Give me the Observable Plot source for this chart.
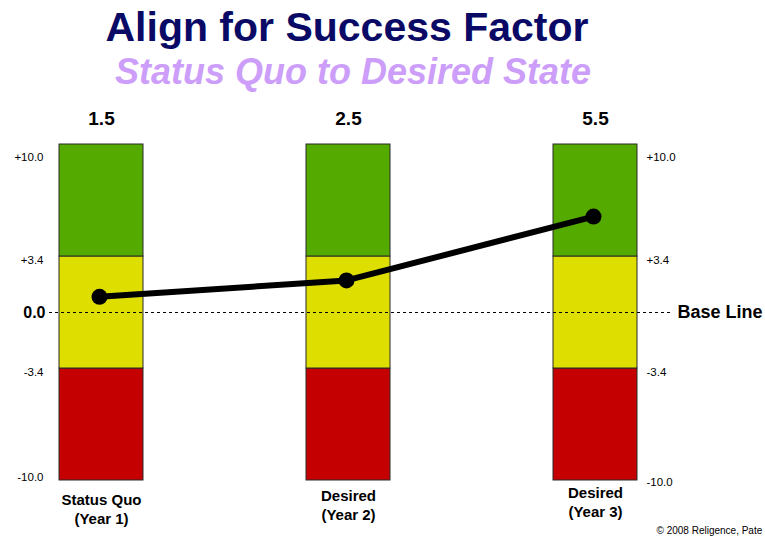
<!DOCTYPE html>
<html><head><meta charset="utf-8">
<script src="https://cdn.jsdelivr.net/npm/d3@7"></script>
<script src="https://cdn.jsdelivr.net/npm/@observablehq/plot@0.6"></script>
<style>html,body{margin:0;padding:0;background:#fff;overflow:hidden}</style>
</head><body><div id="chart"></div>
<script>
const title = "Align for Success Factor";
const subtitle = "Status Quo to Desired State";
const categories = ["Status Quo\n(Year 1)", "Desired\n(Year 2)", "Desired\n(Year 3)"];
const scoreLabels = ["1.5", "2.5", "5.5"];
const plottedValues = [0.95, 1.95, 5.75];
const zoneNames = ["Below", "Neutral", "Above"];
const zoneLow = [-10, -3.4, 3.4];
const zoneHigh = [-3.4, 3.4, 10];
const tickValues = [10, 3.4, 0, -3.4, -10];
const tickLabels = ["+10.0", "+3.4", "0.0", "-3.4", "-10.0"];
const baseLineLabel = "Base Line";
const copyright = "© 2008 Religence, Pate";

const zones = categories.flatMap(c => zoneNames.map((z, i) => ({cat: c, zone: z, lo: zoneLow[i], hi: zoneHigh[i]})));
const points = categories.map((c, i) => ({cat: c, v: plottedValues[i], label: scoreLabels[i]}));
const ticks = tickValues.map((v, i) => ({v, t: tickLabels[i]}));
const font = "Liberation Sans, Arial, Helvetica, sans-serif";

function leftTick(i, dy, extra = {}) {
  return Plot.text([ticks[i]], {y: "v", text: "t", frameAnchor: "left", dx: 43, dy, textAnchor: "end", fontSize: 11.5, ...extra});
}
function rightTick(i, dy) {
  return Plot.text([ticks[i]], {y: "v", text: "t", frameAnchor: "left", dx: 646, dy, textAnchor: "start", fontSize: 11.5});
}
function bottomLabel(i, dy) {
  return Plot.text([points[i]], {x: "cat", y: d3.min(zoneLow), text: "cat", lineAnchor: "top", dy, fontSize: 15, fontWeight: "bold", lineHeight: 1.3});
}

const chart = Plot.plot({
  width: 765, height: 537,
  marginTop: 0, marginRight: 0, marginBottom: 0, marginLeft: 0,
  style: {fontFamily: font, background: "#fff"},
  x: {type: "band", domain: categories, range: [-106, 802], padding: 0.6613, axis: null},
  y: {type: "linear", domain: [-10, -3.4, 3.4, 10], range: [480, 368, 256, 144], axis: null},
  color: {domain: zoneNames, range: ["#c40000", "#dede00", "#55aa00"]},
  marks: [
    Plot.text([title], {text: d => d, frameAnchor: "top", lineAnchor: "middle", dx: -36, dy: 27, fontSize: 41, fontWeight: "bold", fill: "#0a0a66"}),
    Plot.text([subtitle], {text: d => d, frameAnchor: "top", lineAnchor: "middle", dx: -30, dy: 71.5, fontSize: 36, fontWeight: "bold", fontStyle: "italic", fill: "#cc9ef9"}),
    Plot.barY(zones, {x: "cat", y1: "lo", y2: "hi", fill: "zone", stroke: "#2a2a2a", strokeWidth: 1}),
    Plot.ruleY([0], {stroke: "black", strokeWidth: 1, strokeDasharray: "3,3", insetLeft: 49, insetRight: 92}),
    Plot.line(points, {x: "cat", y: "v", stroke: "black", strokeWidth: 6, dx: -2}),
    Plot.dot(points, {x: "cat", y: "v", r: 8, fill: "black", dx: -2}),
    Plot.text(points, {x: "cat", y: d3.max(zoneHigh), text: "label", dy: -25.5, fontSize: 19, fontWeight: "bold"}),
    leftTick(0, 13), leftTick(1, 4), leftTick(2, 0, {fontSize: 16, fontWeight: "bold", dx: 45}), leftTick(3, 3.5), leftTick(4, -3.5),
    rightTick(0, 13), rightTick(1, 4), rightTick(3, 3.5), rightTick(4, 2),
    Plot.text([baseLineLabel], {text: d => d, y: 0, frameAnchor: "left", dx: 677, textAnchor: "start", fontSize: 18, fontWeight: "bold"}),
    bottomLabel(0, 10.5), bottomLabel(1, 6.5), bottomLabel(2, 3.5),
    Plot.text([copyright], {text: d => d, frameAnchor: "bottom-left", lineAnchor: "middle", dx: 656, dy: -7, fontSize: 10, textAnchor: "start"})
  ]
});
document.getElementById("chart").appendChild(chart);
</script>
</body></html>
